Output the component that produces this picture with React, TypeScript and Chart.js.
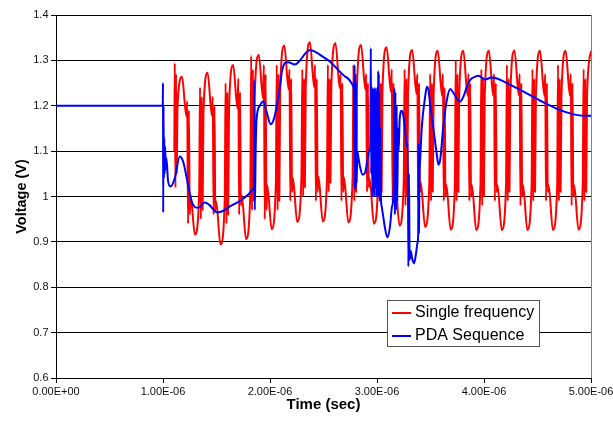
import React, { useEffect, useRef } from "react";
import { Chart, registerables } from "chart.js";

Chart.register(...registerables);

const FONT = "'Liberation Sans', Arial, sans-serif";

const xTickLabels = ["0.00E+00", "1.00E-06", "2.00E-06", "3.00E-06", "4.00E-06", "5.00E-06"];
const seriesNames = ["Single frequency", "PDA Sequence"];
const seriesColors = ["#FF0000", "#0000FF"];
const xTitle = "Time (sec)";
const yTitle = "Voltage (V)";

// time in microseconds, voltage in volts
const singleFrequency: [number, number][] = [
  [1.106, 1.1], [1.11, 1.294], [1.116, 1.02], [1.122, 1.27], [1.128, 1.05], [1.136, 1.2],
  [1.178, 1.264],
  [1.218, 1.177], [1.226, 1.21], [1.234, 0.94], [1.242, 1.19], [1.25, 0.96], [1.258, 1.003], [1.298, 0.916],
  [1.338, 1.005], [1.346, 1.24], [1.354, 0.95], [1.362, 1.22], [1.37, 0.97], [1.378, 1.184], [1.417, 1.273],
  [1.457, 1.178], [1.465, 1.22], [1.473, 0.96], [1.481, 1.2], [1.489, 0.97], [1.497, 0.989], [1.537, 0.894],
  [1.577, 0.993], [1.585, 1.25], [1.593, 0.94], [1.601, 1.23], [1.609, 0.96], [1.617, 1.191], [1.656, 1.29],
  [1.696, 1.194], [1.704, 1.26], [1.712, 0.96], [1.72, 1.23], [1.728, 0.98], [1.736, 1.002], [1.776, 0.906],
  [1.816, 1.008], [1.824, 1.31], [1.832, 0.97], [1.84, 1.28], [1.848, 0.99], [1.856, 1.211], [1.895, 1.312],
  [1.935, 1.216], [1.943, 1.29], [1.951, 0.95], [1.959, 1.27], [1.967, 0.97], [1.975, 1.024], [2.015, 0.928],
  [2.055, 1.029], [2.063, 1.29], [2.071, 0.97], [2.079, 1.27], [2.087, 0.99], [2.095, 1.232], [2.134, 1.333],
  [2.174, 1.236], [2.182, 1.28], [2.19, 0.99], [2.198, 1.26], [2.206, 1.01], [2.214, 1.041], [2.254, 0.944],
  [2.294, 1.043], [2.302, 1.28], [2.31, 1.0], [2.318, 1.26], [2.326, 1.02], [2.334, 1.241], [2.373, 1.34],
  [2.413, 1.241], [2.421, 1.29], [2.429, 0.99], [2.437, 1.26], [2.445, 1.01], [2.453, 1.044], [2.493, 0.945],
  [2.533, 1.043], [2.541, 1.29], [2.549, 1.01], [2.557, 1.26], [2.565, 1.03], [2.573, 1.24], [2.612, 1.338],
  [2.652, 1.239], [2.66, 1.27], [2.668, 0.99], [2.676, 1.25], [2.684, 1.01], [2.692, 1.042], [2.732, 0.943],
  [2.772, 1.041], [2.78, 1.29], [2.788, 0.99], [2.796, 1.27], [2.804, 1.01], [2.812, 1.236], [2.851, 1.334],
  [2.891, 1.236], [2.899, 1.27], [2.907, 1.01], [2.915, 1.25], [2.923, 1.02], [2.931, 1.039], [2.971, 0.94],
  [3.011, 1.037], [3.019, 1.27], [3.027, 0.99], [3.035, 1.25], [3.043, 1.01], [3.051, 1.232], [3.09, 1.329],
  [3.13, 1.231], [3.138, 1.28], [3.146, 0.99], [3.154, 1.25], [3.162, 1.01], [3.17, 1.034], [3.21, 0.936],
  [3.25, 1.033], [3.258, 1.28], [3.266, 0.98], [3.274, 1.26], [3.282, 1.0], [3.29, 1.226], [3.329, 1.323],
  [3.369, 1.226], [3.377, 1.27], [3.385, 0.99], [3.393, 1.25], [3.401, 1.01], [3.409, 1.031], [3.449, 0.933],
  [3.489, 1.03], [3.497, 1.27], [3.505, 0.99], [3.513, 1.25], [3.521, 1.01], [3.529, 1.224], [3.568, 1.321],
  [3.608, 1.222], [3.616, 1.27], [3.624, 0.99], [3.632, 1.24], [3.64, 1.0], [3.648, 1.026], [3.688, 0.927],
  [3.728, 1.026], [3.736, 1.3], [3.744, 0.99], [3.752, 1.27], [3.76, 1.01], [3.768, 1.222], [3.807, 1.321],
  [3.847, 1.222], [3.855, 1.27], [3.863, 0.99], [3.871, 1.25], [3.879, 1.0], [3.887, 1.025], [3.927, 0.926],
  [3.967, 1.025], [3.975, 1.28], [3.983, 0.98], [3.991, 1.26], [3.999, 1.0], [4.007, 1.222], [4.046, 1.321],
  [4.086, 1.222], [4.094, 1.27], [4.102, 0.99], [4.11, 1.25], [4.118, 1.01], [4.126, 1.025], [4.166, 0.926],
  [4.206, 1.025], [4.214, 1.29], [4.222, 0.99], [4.23, 1.26], [4.238, 1.01], [4.246, 1.222], [4.285, 1.322],
  [4.325, 1.223], [4.333, 1.27], [4.341, 0.98], [4.349, 1.25], [4.357, 1.0], [4.365, 1.025], [4.405, 0.926],
  [4.445, 1.025], [4.453, 1.28], [4.461, 0.99], [4.469, 1.26], [4.477, 1.01], [4.485, 1.222], [4.524, 1.321],
  [4.564, 1.222], [4.572, 1.27], [4.58, 0.99], [4.588, 1.25], [4.596, 1.01], [4.604, 1.025], [4.644, 0.926],
  [4.684, 1.025], [4.692, 1.29], [4.7, 0.99], [4.708, 1.26], [4.716, 1.01], [4.724, 1.222], [4.763, 1.321],
  [4.803, 1.222], [4.811, 1.27], [4.819, 0.98], [4.827, 1.25], [4.835, 1.0], [4.843, 1.025], [4.883, 0.927],
  [4.923, 1.026], [4.931, 1.28], [4.939, 0.99], [4.947, 1.26], [4.955, 1.01], [4.963, 1.222], [5.002, 1.321],
];

const pdaSequence: [number, number][] = [
  [0.0, 1.2], [0.998, 1.2], [1.0, 1.25], [1.002, 0.965], [1.005, 1.2], [1.008, 1.04], [1.012, 1.13],
  [1.016, 1.05], [1.02, 1.11], [1.026, 1.06], [1.032, 1.085], [1.047, 1.035], [1.07, 1.022], [1.11, 1.04],
  [1.157, 1.088], [1.188, 1.077], [1.234, 1.026], [1.266, 0.99], [1.297, 0.977], [1.33, 0.975],
  [1.391, 0.987], [1.43, 0.982], [1.506, 0.965], [1.56, 0.968], [1.625, 0.978], [1.718, 0.99],
  [1.8, 1.005], [1.843, 1.016], [1.849, 1.02], [1.853, 1.257], [1.858, 0.97], [1.866, 1.1],
  [1.875, 1.172], [1.905, 1.2], [1.936, 1.21], [1.97, 1.185], [2.006, 1.159], [2.035, 1.17],
  [2.062, 1.198], [2.093, 1.242], [2.109, 1.272], [2.14, 1.294], [2.17, 1.296], [2.233, 1.291],
  [2.28, 1.3], [2.33, 1.315], [2.374, 1.323], [2.436, 1.317], [2.5, 1.307], [2.561, 1.297],
  [2.654, 1.275], [2.705, 1.264], [2.779, 1.242],
  [2.784, 1.22], [2.787, 1.1], [2.79, 1.29], [2.794, 1.015], [2.798, 1.27], [2.802, 1.02], [2.806, 1.25],
  [2.81, 1.03], [2.816, 1.1], [2.825, 1.088], [2.841, 1.066], [2.866, 1.048], [2.888, 1.052], [2.91, 1.079],
  [2.93, 1.103], [2.938, 1.11], [2.942, 1.327], [2.946, 1.05], [2.951, 1.24], [2.956, 1.0], [2.961, 1.24],
  [2.966, 1.01], [2.971, 1.235], [2.976, 1.0], [2.981, 1.24], [2.986, 1.02], [2.991, 1.23], [2.996, 1.0],
  [3.001, 1.24], [3.006, 1.0], [3.011, 1.277], [3.016, 1.0], [3.021, 1.23], [3.026, 0.99], [3.031, 1.15],
  [3.037, 1.0], [3.044, 0.978], [3.059, 0.955], [3.075, 0.93], [3.097, 0.91], [3.122, 0.935], [3.138, 0.975],
  [3.153, 1.0], [3.158, 1.05], [3.162, 1.239], [3.167, 0.96], [3.172, 1.23], [3.178, 0.97], [3.184, 1.2],
  [3.19, 0.99], [3.196, 1.15], [3.202, 1.1], [3.212, 1.17], [3.231, 1.189], [3.245, 1.18], [3.263, 1.147],
  [3.278, 1.11], [3.288, 1.117], [3.293, 0.846], [3.299, 1.05], [3.305, 0.86], [3.315, 0.88], [3.33, 0.862],
  [3.347, 0.853], [3.365, 0.875], [3.38, 0.9], [3.385, 0.916], [3.388, 1.117], [3.392, 0.92], [3.397, 1.05],
  [3.403, 1.079], [3.419, 1.154], [3.45, 1.22], [3.466, 1.242], [3.481, 1.235], [3.497, 1.202],
  [3.527, 1.15], [3.559, 1.092], [3.574, 1.07], [3.59, 1.08], [3.621, 1.158], [3.653, 1.213],
  [3.684, 1.237], [3.715, 1.228], [3.746, 1.216], [3.777, 1.209], [3.808, 1.22], [3.84, 1.242],
  [3.871, 1.257], [3.918, 1.264], [3.949, 1.266], [4.011, 1.258], [4.07, 1.262], [4.121, 1.26],
  [4.214, 1.25], [4.37, 1.231], [4.526, 1.211], [4.682, 1.193], [4.838, 1.181], [4.931, 1.178], [5.0, 1.178],
];

export default function App() {
  const ref = useRef<HTMLCanvasElement>(null);

  useEffect(() => {
    document.body.style.margin = "0";
    const canvas = ref.current;
    if (!canvas) return;

    const frameAndLegend = {
      id: "frameAndLegend",
      beforeDatasetsDraw(chart: any) {
        const { ctx, chartArea } = chart;
        ctx.save();
        ctx.strokeStyle = "#808080";
        ctx.lineWidth = 1;
        ctx.beginPath();
        ctx.moveTo(Math.round(chartArea.right) + 0.5, chartArea.top);
        ctx.lineTo(Math.round(chartArea.right) + 0.5, chartArea.bottom);
        ctx.stroke();
        ctx.restore();
      },
      afterDraw(chart: any) {
        const { ctx, chartArea } = chart;
        const x0 = Math.round(chartArea.right - 204);
        const y0 = Math.round(chartArea.bottom - 78);
        const w = 152;
        const h = 46;
        ctx.save();
        ctx.fillStyle = "#ffffff";
        ctx.fillRect(x0, y0, w, h);
        ctx.strokeStyle = "#555555";
        ctx.lineWidth = 1;
        ctx.strokeRect(x0 + 0.5, y0 + 0.5, w, h);
        ctx.font = `16px ${FONT}`;
        ctx.textBaseline = "middle";
        ctx.textAlign = "left";
        seriesNames.forEach((name, i) => {
          const y = y0 + 13 + i * 23;
          ctx.strokeStyle = seriesColors[i];
          ctx.lineWidth = 2;
          ctx.beginPath();
          ctx.moveTo(x0 + 5, y);
          ctx.lineTo(x0 + 24, y);
          ctx.stroke();
          ctx.fillStyle = "#000000";
          ctx.fillText(name, x0 + 28, y);
        });
        ctx.restore();
      },
    };

    const chart = new Chart(canvas, {
      type: "line",
      data: {
        datasets: [
          {
            label: seriesNames[0],
            data: singleFrequency.map(([x, y]) => ({ x, y })),
            borderColor: seriesColors[0],
            borderWidth: 2,
            pointRadius: 0,
            cubicInterpolationMode: "monotone",
            borderJoinStyle: "round",
            fill: false,
            order: 2,
          },
          {
            label: seriesNames[1],
            data: pdaSequence.map(([x, y]) => ({ x, y })),
            borderColor: seriesColors[1],
            borderWidth: 2,
            pointRadius: 0,
            cubicInterpolationMode: "monotone",
            borderJoinStyle: "round",
            fill: false,
            order: 1,
          },
        ],
      },
      options: {
        responsive: false,
        animation: false,
        events: [],
        layout: { padding: { top: 15, right: 22, left: 0, bottom: 0 } },
        plugins: {
          legend: { display: false },
          tooltip: { enabled: false },
        },
        scales: {
          x: {
            type: "linear",
            min: 0,
            max: 5,
            afterFit: (s: any) => {
              s.height = 43;
              s.paddingLeft = 0;
              s.paddingRight = 0;
            },
            ticks: {
              stepSize: 1,
              autoSkip: false,
              maxRotation: 0,
              padding: 2.5,
              color: "#111",
              font: { family: FONT, size: 11 },
              callback: (_v: any, i: number) => xTickLabels[i],
            },
            grid: { drawOnChartArea: false, drawTicks: true, tickLength: 5, color: "#000" },
            border: { color: "#000", width: 1 },
            title: {
              display: true,
              text: xTitle,
              color: "#000",
              font: { family: FONT, size: 15, weight: "bold" },
              padding: { top: 0, bottom: 7 },
            },
          },
          y: {
            min: 0.6,
            max: 1.4,
            afterFit: (s: any) => {
              s.width = 56;
              s.paddingTop = 0;
              s.paddingBottom = 0;
            },
            ticks: {
              stepSize: 0.1,
              padding: 2.5,
              color: "#111",
              font: { family: FONT, size: 11 },
              callback: (v: any) => String(Math.round(Number(v) * 10) / 10),
            },
            grid: { color: "#000", drawTicks: true, tickLength: 5, lineWidth: 1 },
            border: { color: "#000", width: 1 },
            title: {
              display: true,
              text: yTitle,
              color: "#000",
              font: { family: FONT, size: 14.5, weight: "bold" },
              padding: { top: 13, bottom: 0 },
            },
          },
        },
      },
      plugins: [frameAndLegend],
    });

    return () => chart.destroy();
  }, []);

  return (
    <div style={{ width: 613, height: 421, background: "#fff" }}>
      <canvas ref={ref} width={613} height={421} style={{ display: "block" }} />
    </div>
  );
}
